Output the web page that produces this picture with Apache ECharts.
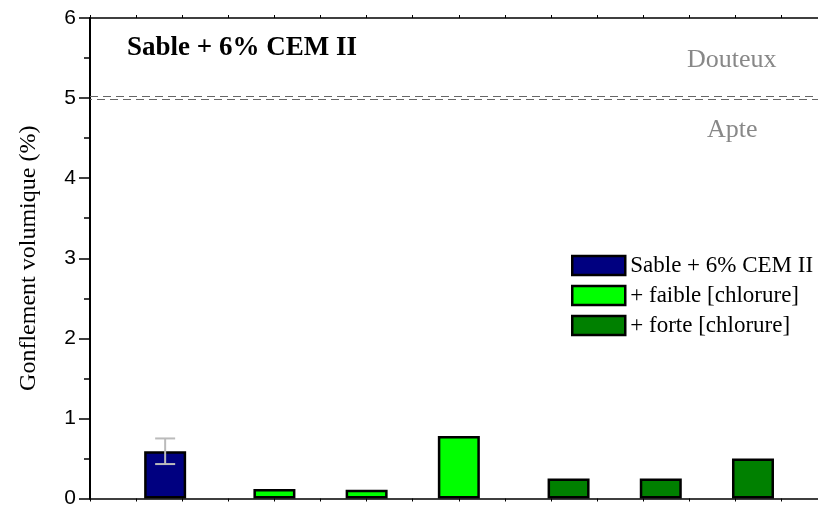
<!DOCTYPE html>
<html>
<head>
<meta charset="utf-8">
<script src="https://cdn.jsdelivr.net/npm/echarts@6/dist/echarts.min.js"></script>
<style>html,body{margin:0;padding:0;background:#fff;}#c{width:818px;height:509px;}</style>
</head>
<body>
<div id="c"></div>
<script>
// ---- data ----
const seriesNames = ['Sable + 6% CEM II', '+ faible [chlorure]', '+ forte [chlorure]'];
const refX = [1.63];
const refY = [0.59];
const refErr = [0.16];
const faibleX = [4, 6, 8];
const faibleY = [0.12, 0.11, 0.78];
const forteX = [10.38, 12.38, 14.38];
const forteY = [0.25, 0.25, 0.5];
const limitValue = 5;
const yTicks = [0, 1, 2, 3, 4, 5, 6];
const titleText = 'Sable + 6% CEM II';
const zoneAbove = 'Douteux';
const zoneBelow = 'Apte';
const yName = 'Gonflement volumique (%)';

const colors = ['#000080', '#00ff00', '#008000'];
const serif = '"Liberation Serif", "Times New Roman", serif';
const sans = '"Liberation Sans", Arial, sans-serif';

function pairs(xs, ys) { return xs.map((x, i) => [x, ys[i]]); }

const chart = echarts.init(document.getElementById('c'), null, {renderer: 'canvas'});
const barStyle = (c) => ({color: c, borderColor: '#000', borderWidth: 2.5});

chart.setOption({
  animation: false,
  backgroundColor: '#fff',
  title: {
    text: titleText, left: 122, top: 30,
    textStyle: {fontFamily: serif, fontWeight: 'bold', fontSize: 27, color: '#000'}
  },
  legend: {
    orient: 'vertical', left: 566, top: 249,
    itemWidth: 53, itemHeight: 19, itemGap: 7,
    icon: 'rect',
    data: seriesNames,
    itemStyle: {borderColor: '#000', borderWidth: 2.5},
    textStyle: {fontFamily: serif, fontSize: 23, color: '#000'}
  },
  grid: {left: 90, right: 0, top: 18, bottom: 7, containLabel: false},
  xAxis: [{
    type: 'value', min: 0, max: 15.79, interval: 1,
    axisLine: {show: true, lineStyle: {color: '#000', width: 1.5}},
    axisTick: {show: true, length: 3, lineStyle: {color: '#000'}},
    axisLabel: {show: false}, splitLine: {show: false}
  }, {
    type: 'value', position: 'top', min: 0, max: 15.79, interval: 1,
    axisLine: {show: true, onZero: false, lineStyle: {color: '#000', width: 1.5}},
    axisTick: {show: true, length: 3, lineStyle: {color: '#000'}},
    axisLabel: {show: false}, splitLine: {show: false}
  }],
  yAxis: {
    type: 'value', min: yTicks[0], max: yTicks[yTicks.length - 1], interval: 1,
    name: yName, nameLocation: 'middle', nameGap: 49,
    nameTextStyle: {fontFamily: serif, fontSize: 24, color: '#000'},
    axisLine: {show: true, lineStyle: {color: '#000', width: 2}},
    axisTick: {show: true, length: 11, lineStyle: {color: '#000', width: 1.5}},
    minorTick: {show: true, splitNumber: 2, length: 6, lineStyle: {color: '#000', width: 1.5}},
    axisLabel: {fontFamily: sans, fontSize: 21, color: '#000', margin: 14},
    splitLine: {show: false}
  },
  graphic: [
    {type: 'text', left: 687, top: 47, style: {text: zoneAbove, font: '26px ' + serif, fill: '#888'}},
    {type: 'text', left: 707, top: 117, style: {text: zoneBelow, font: '26px ' + serif, fill: '#888'}}
  ],
  series: [
    {
      name: seriesNames[0], type: 'bar', barWidth: 42, barGap: '-100%',
      data: pairs(refX, refY), itemStyle: barStyle(colors[0]),
      markLine: {
        silent: true, symbol: 'none', label: {show: false},
        data: [
          {yAxis: limitValue + 0.018, lineStyle: {color: '#666', type: [8, 5], width: 1}},
          {yAxis: limitValue - 0.018, lineStyle: {color: '#666', type: [8, 5], dashOffset: 6, width: 1}}
        ]
      }
    },
    {name: seriesNames[1], type: 'bar', barWidth: 42, barGap: '-100%', data: pairs(faibleX, faibleY), itemStyle: barStyle(colors[1])},
    {name: seriesNames[2], type: 'bar', barWidth: 42, barGap: '-100%', data: pairs(forteX, forteY), itemStyle: barStyle(colors[2])},
    {
      type: 'custom', z: 10,
      data: refX.map((x, i) => [x, refY[i] - refErr[i], refY[i] + refErr[i]]),
      renderItem: function (params, api) {
        const lo = api.coord([api.value(0), api.value(1)]);
        const hi = api.coord([api.value(0), api.value(2)]);
        const hw = 10;
        const st = {stroke: '#bbb', lineWidth: 2};
        return {type: 'group', children: [
          {type: 'line', shape: {x1: lo[0], y1: lo[1], x2: hi[0], y2: hi[1]}, style: st},
          {type: 'line', shape: {x1: lo[0] - hw, y1: lo[1], x2: lo[0] + hw, y2: lo[1]}, style: st},
          {type: 'line', shape: {x1: hi[0] - hw, y1: hi[1], x2: hi[0] + hw, y2: hi[1]}, style: st}
        ]};
      }
    }
  ]
});
</script>
</body>
</html>
